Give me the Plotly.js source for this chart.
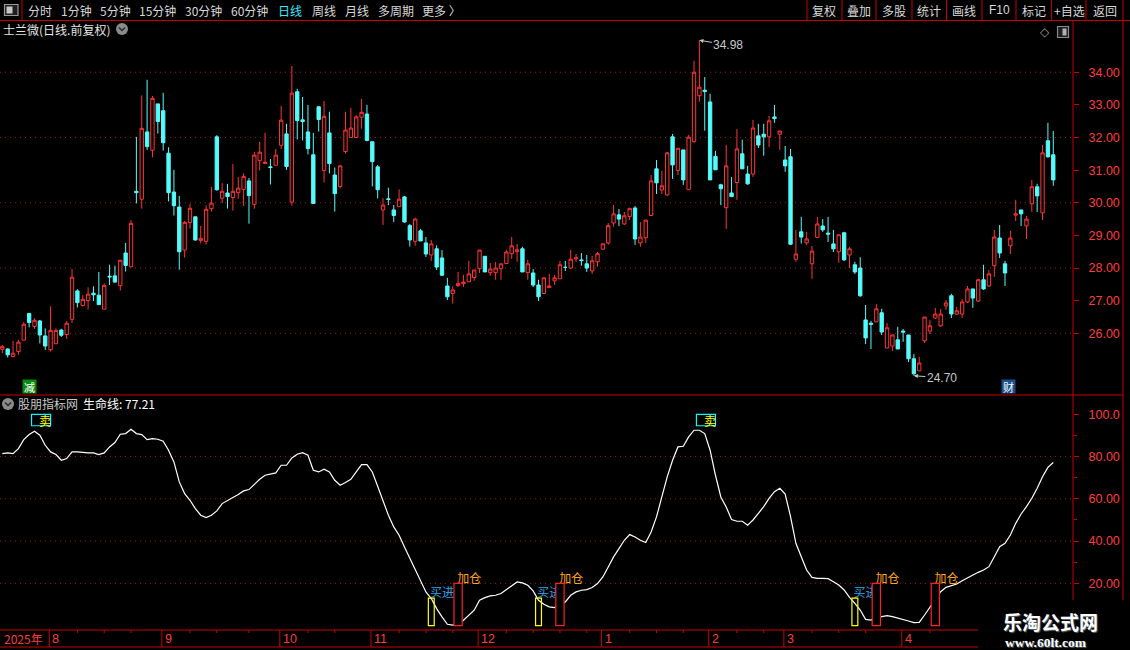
<!DOCTYPE html>
<html><head><meta charset="utf-8">
<script src="https://cdn.plot.ly/plotly-3.0.1.min.js"></script>
<style>html,body{margin:0;padding:0;background:#000;}#chart{width:1130px;height:650px;}</style>
</head><body><div id="chart"></div>
<script>
// ---------------- data ----------------
const open = [25.51,25.52,25.29,25.44,25.79,26.61,26.21,26.38,25.92,25.50,
25.68,26.10,25.96,26.43,27.30,26.85,27.00,27.23,27.17,26.74,
27.75,27.76,27.46,28.46,28.04,30.35,30.11,32.17,31.61,33.03,
32.82,31.52,30.33,29.87,28.55,29.39,29.57,28.84,28.82,29.82,
32.02,30.14,30.30,30.16,30.31,30.41,30.67,29.95,31.29,31.20,
31.10,31.15,31.76,32.11,30.02,33.40,32.54,32.17,31.47,32.94,
30.99,32.14,30.85,30.50,31.57,32.00,32.00,32.62,32.72,31.87,
31.10,29.78,30.12,29.78,29.88,30.18,29.30,28.82,29.14,28.77,
28.40,28.59,28.31,27.45,27.22,27.46,27.52,27.58,27.71,27.98,
28.36,27.86,27.86,27.98,28.14,28.44,28.50,28.59,27.86,27.85,
27.48,27.22,27.40,27.61,27.67,28.02,28.00,28.28,28.25,28.13,
27.91,28.19,28.58,28.77,29.38,29.63,29.35,29.58,29.84,28.77,
28.93,29.61,31.04,30.39,30.24,32.02,30.99,31.62,30.40,31.87,
33.28,33.45,33.09,31.42,30.55,29.85,30.30,30.62,31.50,30.88,
30.88,32.05,32.10,32.02,32.63,32.10,31.31,31.41,28.27,29.11,
28.77,28.13,28.94,29.29,29.07,28.74,28.50,29.08,28.40,28.10,
28.00,26.41,26.31,26.35,26.63,25.55,25.61,25.80,26.07,25.95,
25.22,24.85,25.77,26.07,26.47,26.23,26.84,27.15,26.59,26.59,
26.96,27.36,26.99,27.64,27.45,28.07,28.92,28.13,28.68,29.62,
29.78,29.29,29.97,30.49,29.69,31.90,31.47];
const high = [25.64,25.54,25.77,25.80,26.34,26.61,26.46,26.41,26.15,26.83,
26.15,26.14,26.38,27.97,27.35,27.17,27.41,27.44,27.88,27.53,
28.10,28.07,28.24,28.77,29.47,32.02,33.29,33.77,33.27,33.03,
33.37,31.70,31.01,30.21,29.44,29.97,29.57,29.29,29.92,30.49,
32.07,30.60,30.58,31.19,30.79,30.90,30.76,31.56,31.87,32.14,
31.34,31.65,32.97,32.42,34.19,33.49,33.24,33.00,32.14,32.94,
33.12,32.79,31.08,31.16,32.79,32.91,32.69,33.18,33.00,31.87,
31.16,30.14,30.46,29.93,30.41,30.21,29.35,29.54,29.20,28.95,
28.86,28.70,28.55,27.70,27.44,27.88,27.79,28.22,27.94,28.55,
28.36,28.16,28.19,28.13,28.56,28.95,28.74,28.65,28.25,27.97,
27.64,27.72,27.82,27.79,28.22,28.22,28.56,28.43,28.46,28.40,
28.37,28.49,28.77,29.38,29.93,29.81,29.72,29.83,29.90,29.41,
29.47,30.85,31.31,30.98,31.56,32.11,31.67,31.62,32.08,34.35,
34.98,33.85,33.34,31.59,30.58,31.77,30.79,32.26,31.93,31.13,
32.54,32.42,32.42,32.66,33.00,32.20,31.74,31.65,29.17,29.57,
29.11,28.68,29.57,29.50,29.57,29.17,29.02,29.11,28.65,28.19,
28.33,26.87,26.38,26.90,26.75,26.32,25.95,26.20,26.13,25.95,
25.37,25.28,26.50,26.41,26.78,26.75,27.02,27.21,26.81,27.05,
27.45,27.36,27.67,28.10,27.94,29.17,29.32,28.22,29.14,30.09,
29.78,29.60,30.70,30.58,31.77,32.45,32.20];
const low = [25.39,25.26,25.26,25.34,25.79,26.18,26.14,25.69,25.49,25.44,
25.68,25.89,25.83,26.32,26.79,26.82,26.73,26.99,26.88,26.74,
27.48,27.55,27.31,27.89,28.04,29.98,29.82,31.62,31.39,32.12,
31.60,30.04,29.61,27.95,28.32,29.21,28.84,28.75,28.72,29.73,
30.37,29.99,29.82,29.76,30.13,29.90,29.36,29.82,30.99,31.20,
30.56,31.15,31.64,31.01,29.91,31.94,31.91,31.48,29.98,32.18,
30.62,30.90,29.73,30.44,31.51,32.00,32.00,32.27,31.88,30.50,
30.13,29.32,29.93,29.41,29.88,29.39,28.66,28.68,28.83,28.34,
28.22,27.94,27.76,27.02,26.91,27.42,27.42,27.58,27.61,27.85,
27.88,27.76,27.64,27.64,28.14,28.28,28.19,27.88,27.64,27.42,
26.99,27.22,27.40,27.48,27.67,27.91,27.97,28.19,28.07,27.88,
27.82,28.04,28.56,28.71,29.27,29.29,29.32,29.47,28.71,28.65,
28.77,29.61,30.27,30.27,30.21,30.73,30.85,30.55,30.40,31.84,
33.09,32.21,30.70,31.01,29.93,29.20,30.19,30.09,31.04,30.55,
30.79,31.68,31.44,31.71,32.45,31.62,30.95,28.71,28.19,28.75,
28.71,27.67,28.92,29.11,28.80,28.49,28.16,28.22,28.00,27.82,
27.12,25.67,25.52,26.35,25.95,25.55,25.46,25.52,25.74,25.12,
24.70,24.85,25.70,25.98,26.44,26.20,26.72,26.47,26.56,26.47,
26.93,26.78,26.96,27.33,27.42,27.73,28.31,27.45,28.43,29.44,
29.29,28.89,29.72,29.72,29.47,31.38,30.52];
const close = [25.59,25.34,25.39,25.73,26.28,26.33,26.40,25.95,25.61,26.09,
26.09,25.94,26.31,27.72,26.94,27.04,27.20,27.18,26.88,27.47,
27.73,27.57,28.24,28.08,29.37,30.31,32.28,31.72,33.20,32.49,
31.84,30.31,29.91,28.50,29.40,29.83,28.86,28.91,29.80,29.99,
30.40,30.35,30.19,30.35,30.45,30.81,30.22,31.46,31.55,31.24,
31.08,31.46,32.53,31.11,33.36,32.52,32.49,31.66,29.98,32.55,
32.65,31.20,30.28,31.13,32.23,32.29,32.63,32.77,31.91,31.26,
30.40,29.93,30.10,29.61,30.11,29.41,28.86,29.50,28.83,28.43,
28.74,28.03,27.78,27.12,27.33,27.53,27.57,27.82,27.94,28.55,
27.88,27.97,28.00,28.13,28.49,28.68,28.56,27.88,28.13,27.48,
27.12,27.70,27.45,27.70,28.10,28.02,28.27,28.31,28.23,28.00,
28.22,28.44,28.74,29.30,29.66,29.50,29.60,29.83,28.89,28.95,
29.47,30.67,30.61,30.52,31.53,31.16,31.67,30.70,32.01,34.00,
33.54,33.41,30.70,31.01,30.43,31.13,30.19,31.65,31.04,30.58,
32.29,31.77,32.02,32.51,32.58,32.20,31.13,28.73,28.43,28.95,
28.89,28.52,29.35,29.17,29.04,28.59,29.02,28.25,28.59,27.88,
27.15,25.86,26.28,26.75,26.04,26.17,25.95,25.52,26.04,25.22,
24.76,25.09,26.50,26.23,26.59,26.59,26.93,26.59,26.69,26.96,
27.36,27.08,27.64,27.36,27.82,28.95,28.46,27.85,28.92,29.66,
29.66,29.50,30.49,30.21,31.53,31.41,30.70];
// 生命线 indicator
const lifeLine = [81.42,81.74,81.42,83.79,88.05,90.41,91.99,90.10,85.36,82.21,
80.95,78.26,79.05,82.21,82.21,81.89,81.74,81.74,80.95,81.74,
84.58,86.63,90.57,90.89,92.94,90.89,90.41,88.05,88.52,88.21,
87.26,83.00,77.48,68.01,62.49,59.33,55.39,52.23,51.12,52.23,
54.28,57.75,59.33,60.59,62.01,63.75,64.38,66.90,69.27,71.16,
71.64,72.27,75.90,75.90,79.37,81.10,81.89,80.63,73.53,72.74,
74.00,72.74,68.80,66.43,67.69,69.27,72.74,76.21,76.21,72.74,
65.96,59.33,52.23,46.71,42.76,37.24,31.72,26.98,21.46,15.94,
12.78,8.05,4.10,0.63,0.20,0.63,2.53,4.89,7.26,12.00,
13.25,14.04,14.36,15.15,17.04,19.09,20.67,20.20,19.09,16.41,
12.00,10.10,8.84,8.52,10.10,11.20,14.36,15.94,16.73,17.04,
17.99,19.88,23.04,27.77,32.51,36.45,40.39,43.08,41.97,40.39,
39.29,44.34,51.44,60.91,70.37,78.26,84.58,84.89,89.31,92.47,
92.47,90.89,83.00,71.16,60.91,56.17,50.18,49.39,49.39,47.49,
49.98,53.14,56.29,60.24,63.39,64.97,62.29,51.56,38.94,32.62,
26.31,22.84,22.37,22.37,22.21,20.79,19.21,16.84,13.37,10.53,
7.37,2.95,2.63,3.74,4.21,4.69,4.21,3.58,3.10,2.16,
1.37,1.53,5.00,8.64,12.90,16.06,18.11,18.74,19.69,21.26,
22.68,23.95,25.21,26.31,27.89,32.62,37.36,38.94,42.88,48.40,
52.82,56.29,60.24,64.97,70.49,74.91,77.21];
// signals (candle numbers)
const sellIdx = [7, 131];
const buyIdx = [81, 101, 160];
const addIdx = [86, 105, 164, 175];
const buyLevel = 13, addLevel = 20, sellTop = 100, sellBottom = 94.6;
// event markers
const eventIdx = [6.1, 188.7];
const eventText = ['减', '财'];
// axes
const priceTicks = [26,27,28,29,30,31,32,33,34];
const priceGrid = [26,28,30,32,34];
const indTicks = [20,40,60,80,100];
const indTickText = ['20.00','40.00','60.00','80.00','100.0'];
const indGrid = [20,40,60,80];
const monthLabels = ['8','9','10','11','12','1','2','3','4'];
const monthStart = [10,31,53,70,90,113,133,147,169];
const weekTicks = [15,20,25,36,41,47,58,63,75,80,85,95,100,105,110,118,123,128,138,143,152,157,162,174];
const yearLabel = '2025年';
const leftMenu = [['分时',27],['1分钟',60],['5分钟',99],['15分钟',138],['30分钟',184],['60分钟',230],['日线',277],['周线',311],['月线',344],['多周期',377],['更多 〉',421]];
const rightMenu = [['复权',824],['叠加',859],['多股',893.5],['统计',928.5],['画线',963.5],['F10',999.5],['标记',1033.5],['+自选',1069],['返回',1104.5]];
const menuSeps = [22,807,842,876,912,946.5,982,1016,1051.6,1086];

// ---------------- drawing ----------------
const N = close.length;
const idx = close.map((v, i) => i + 1);
const PW = 1073, PH = 610;
const fx = x => x / PW;
const fy = y => (630 - y) / PH;
const SPLIT = fy(395);
const CJK = '"Noto Sans CJK SC", "Noto Sans", sans-serif';
const NUM = '"Liberation Sans", Arial, sans-serif';
const RED = '#ff3434', CYAN = '#54fcfc', AXRED = '#c80000', TXTRED = '#ff3c3c', GRID = '#9a1a1a';

const shapes = [], ann = [];
function pline(x0,y0,x1,y1,color,width,layer){
  shapes.push({type:'line',xref:'paper',yref:'paper',x0:fx(x0),y0:fy(y0),x1:fx(x1),y1:fy(y1),
    line:{color:color,width:width||1},layer:layer||'above'});
}
function prect(x0,y0,x1,y1,lc,fc,lw,layer){
  shapes.push({type:'rect',xref:'paper',yref:'paper',x0:fx(x0),y0:fy(y0),x1:fx(x1),y1:fy(y1),
    line:{color:lc,width:lw===undefined?1:lw},fillcolor:fc||'rgba(0,0,0,0)',layer:layer||'above'});
}
function ptext(x,y,t,opt){
  opt = opt || {};
  ann.push({xref:'paper',yref:'paper',x:fx(x),y:fy(y),text:t,showarrow:false,
    xanchor:opt.xa||'left',yanchor:'middle',
    font:{family:opt.family||CJK,size:opt.size||12,color:opt.color||'#d8d8d8'},
    bgcolor:opt.bg, borderpad:opt.pad===undefined?0:opt.pad});
}

// gridlines
priceGrid.forEach(v => shapes.push({type:'line',xref:'paper',yref:'y',x0:0,x1:1,y0:v,y1:v,line:{color:GRID,width:1,dash:'1px,4px'},layer:'below'}));
indGrid.forEach(v => shapes.push({type:'line',xref:'paper',yref:'y2',x0:0,x1:1,y0:v,y1:v,line:{color:GRID,width:1,dash:'1px,4px'},layer:'below'}));

// frame lines
pline(0,20.5,1130,20.5,AXRED,1);
pline(0,395,1123,395,AXRED,1);
pline(1073,20,1073,600,AXRED,1);
pline(1123,0,1123,600,AXRED,1);
menuSeps.forEach(x => pline(x,0,x,20,AXRED,1));
pline(0,630,1073,630,AXRED,1);
pline(0,647,1073,647,AXRED,1);
monthStart.forEach(m => shapes.push({type:'line',xref:'x',yref:'paper',x0:m-0.25,x1:m-0.25,y0:fy(630),y1:fy(647),line:{color:AXRED,width:1},layer:'above'}));
weekTicks.forEach(m => shapes.push({type:'line',xref:'x',yref:'paper',x0:m,x1:m,y0:fy(630),y1:fy(633),line:{color:AXRED,width:1},layer:'above'}));

// menu
leftMenu.forEach(([t,x]) => ptext(x,10.5,t,{color: t==='日线' ? '#3ce8ff' : '#d8d8d8'}));
rightMenu.forEach(([t,x]) => ptext(x,10.5,t,{xa:'center',family: t==='F10'?NUM:CJK}));
// icons
prect(4.5,4.5,18,15.5,'#9a9a9a','#202020',1.2);
prect(6.5,6.5,12.5,13.5,'rgba(0,0,0,0)','#c8c8c8',0);
prect(1057.5,26.5,1068.5,37.5,'#8a8a8a','#202020',1.2);
prect(1062.5,28.5,1066.5,35.5,'rgba(0,0,0,0)','#b0b0b0',0);
ptext(1044.5,32,'◇',{xa:'center',color:'#9a9a9a',size:12,family:'"DejaVu Sans"'});

// titles
ptext(2,29,'士兰微(日线.前复权)',{color:'#e4e4e4'});
shapes.push({type:'circle',xref:'paper',yref:'paper',x0:fx(116),x1:fx(128),y0:fy(35),y1:fy(23),fillcolor:'#8a8a8a',line:{width:0},layer:'above'});
shapes.push({type:'path',xref:'paper',yref:'paper',path:'M'+fx(119)+','+fy(27.5)+' L'+fx(122)+','+fy(30.5)+' L'+fx(125)+','+fy(27.5),line:{color:'#2a2a2a',width:1.5},layer:'above'});
shapes.push({type:'circle',xref:'paper',yref:'paper',x0:fx(2),x1:fx(14),y0:fy(410),y1:fy(398),fillcolor:'#8a8a8a',line:{width:0},layer:'above'});
shapes.push({type:'path',xref:'paper',yref:'paper',path:'M'+fx(5)+','+fy(402.5)+' L'+fx(8)+','+fy(405.5)+' L'+fx(11)+','+fy(402.5),line:{color:'#2a2a2a',width:1.5},layer:'above'});
ptext(17,404,'股朋指标网',{color:'#c8c8c8'});
ptext(82,404,'生命线: ' + lifeLine[N-1].toFixed(2),{color:'#ffffff'});

// date row labels
ptext(3,638.5,yearLabel,{color:TXTRED});
monthLabels.forEach((t,k) => ann.push({xref:'x',yref:'paper',x:monthStart[k]-0.25,y:fy(638.5),xanchor:'left',yanchor:'middle',xshift:2,
  text:t,showarrow:false,borderpad:0,font:{family:NUM,size:12.5,color:TXTRED}}));

// event markers
eventIdx.forEach((x,k) => ann.push({xref:'x',yref:'paper',x:x,y:fy(386.5),text:eventText[k],showarrow:false,
  xanchor:'center',yanchor:'middle',width:13,height:13,borderpad:0,
  bgcolor: k===0 ? '#0a8a0a' : '#1d4f8c', font:{family:CJK,size:11,color:'#ffffff'}}));

// high / low labels
let hiI = 0, loI = 0;
for (let i = 0; i < N; i++) { if (high[i] > high[hiI]) hiI = i; if (low[i] < low[loI]) loI = i; }
ann.push({xref:'x',yref:'y',x:hiI+1,y:high[hiI],text:high[hiI].toFixed(2),showarrow:true,ax:29,ay:5,
  arrowhead:2,arrowsize:0.8,arrowwidth:1,arrowcolor:'#c8c8c8',standoff:0,font:{family:NUM,size:12,color:'#c8c8c8'}});
ann.push({xref:'x',yref:'y',x:loI+1,y:low[loI],text:low[loI].toFixed(2),showarrow:true,ax:28,ay:2,
  arrowhead:2,arrowsize:0.8,arrowwidth:1,arrowcolor:'#c8c8c8',standoff:0,font:{family:NUM,size:12,color:'#c8c8c8'}});

// signal boxes
buyIdx.forEach(i => shapes.push({type:'rect',xref:'x',yref:'y2',x0:i-0.55,x1:i+0.55,y0:0,y1:buyLevel,line:{color:'#ffff00',width:1.2},fillcolor:'rgba(0,0,0,0)',layer:'above'}));
addIdx.forEach(i => shapes.push({type:'rect',xref:'x',yref:'y2',x0:i-0.77,x1:i+0.77,y0:0,y1:addLevel,line:{color:'#ff2020',width:1.2},fillcolor:'#000000',layer:'above'}));
sellIdx.forEach(i => shapes.push({type:'rect',xref:'x',yref:'y2',x0:i-0.55,x1:i+3.0,y0:sellBottom,y1:sellTop,line:{color:'#00ffff',width:1.2},fillcolor:'rgba(0,0,0,0)',layer:'above'}));
sellIdx.forEach(i => ann.push({xref:'x',yref:'y2',x:i+1.9,y:97.3,text:'卖',showarrow:false,xanchor:'center',yanchor:'middle',borderpad:0,
  font:{family:CJK,size:12,color:'#ffff00'}}));

// watermark
prect(978,600,1130,650,'rgba(0,0,0,0)','#000000',0);
ann.push({xref:'paper',yref:'paper',x:fx(1050.5),y:fy(621.5),text:'<b>乐淘公式网</b>',showarrow:false,xanchor:'center',yanchor:'middle',borderpad:0,
  font:{family:CJK,size:19,color:'#ffffff',shadow:'1px 1px 1px #666'}});
ann.push({xref:'paper',yref:'paper',x:fx(1045.5),y:fy(642),text:'<b>www.60lt.com</b>',showarrow:false,xanchor:'center',yanchor:'middle',borderpad:0,
  font:{family:'"Liberation Serif", serif',size:13.5,color:'#ffffff',shadow:'1px 1px 1px #666'}});

const traces = [
  {type:'candlestick',x:idx,open:open,high:high,low:low,close:close,xaxis:'x',yaxis:'y',
   increasing:{line:{color:RED,width:1},fillcolor:'#000000'},
   decreasing:{line:{color:CYAN,width:1},fillcolor:CYAN},
   whiskerwidth:0,hoverinfo:'skip',showlegend:false},
  {type:'scatter',mode:'lines',x:idx,y:lifeLine,xaxis:'x',yaxis:'y2',line:{color:'#ffffff',width:1.2},hoverinfo:'skip',showlegend:false},
  {type:'scatter',mode:'text',x:buyIdx.map(i=>i+2.0),y:buyIdx.map(()=>15),text:buyIdx.map(()=> '买进'),xaxis:'x',yaxis:'y2',
   textfont:{family:CJK,size:12,color:'#2ea2e6'},cliponaxis:false,hoverinfo:'skip',showlegend:false},
  {type:'scatter',mode:'text',x:addIdx.map(i=>i+2.1),y:addIdx.map(()=>21.6),text:addIdx.map(()=> '加仓'),xaxis:'x',yaxis:'y2',
   textfont:{family:CJK,size:12,color:'#ffa41c'},cliponaxis:false,hoverinfo:'skip',showlegend:false}
];

const layout = {
  width:1130,height:650,margin:{l:0,r:57,t:20,b:20,pad:0},
  paper_bgcolor:'#000000',plot_bgcolor:'#000000',showlegend:false,
  boxgap:0.11,
  xaxis:{range:[0.5655,200.68],anchor:'y2',showticklabels:false,showgrid:false,zeroline:false,showline:false,ticks:'',
         rangeslider:{visible:false},fixedrange:true,automargin:false},
  yaxis:{domain:[SPLIT,1],range:[24.11,35.60],side:'right',anchor:'x',tickmode:'array',tickvals:priceTicks,
         ticktext:priceTicks.map(v=>v.toFixed(2)),tickfont:{family:NUM,size:12.5,color:TXTRED},
         ticks:'outside',ticklen:5,tickcolor:AXRED,tickwidth:1,ticklabelstandoff:7,
         showgrid:false,zeroline:false,showline:false,fixedrange:true,automargin:false},
  yaxis2:{domain:[0,SPLIT],range:[-2.09,109.15],side:'right',anchor:'x',tickmode:'array',tickvals:indTicks,
         ticktext:indTickText,tickfont:{family:NUM,size:12.5,color:TXTRED},
         ticks:'outside',ticklen:5,tickcolor:AXRED,tickwidth:1,ticklabelstandoff:7,
         minor:{tickvals:[10,30,50,70,90],ticklen:3,tickcolor:AXRED,ticks:'outside'},
         showgrid:false,zeroline:false,showline:false,fixedrange:true,automargin:false},
  shapes:shapes,annotations:ann
};
Plotly.newPlot('chart',traces,layout,{staticPlot:true,displayModeBar:false});
</script></body></html>
